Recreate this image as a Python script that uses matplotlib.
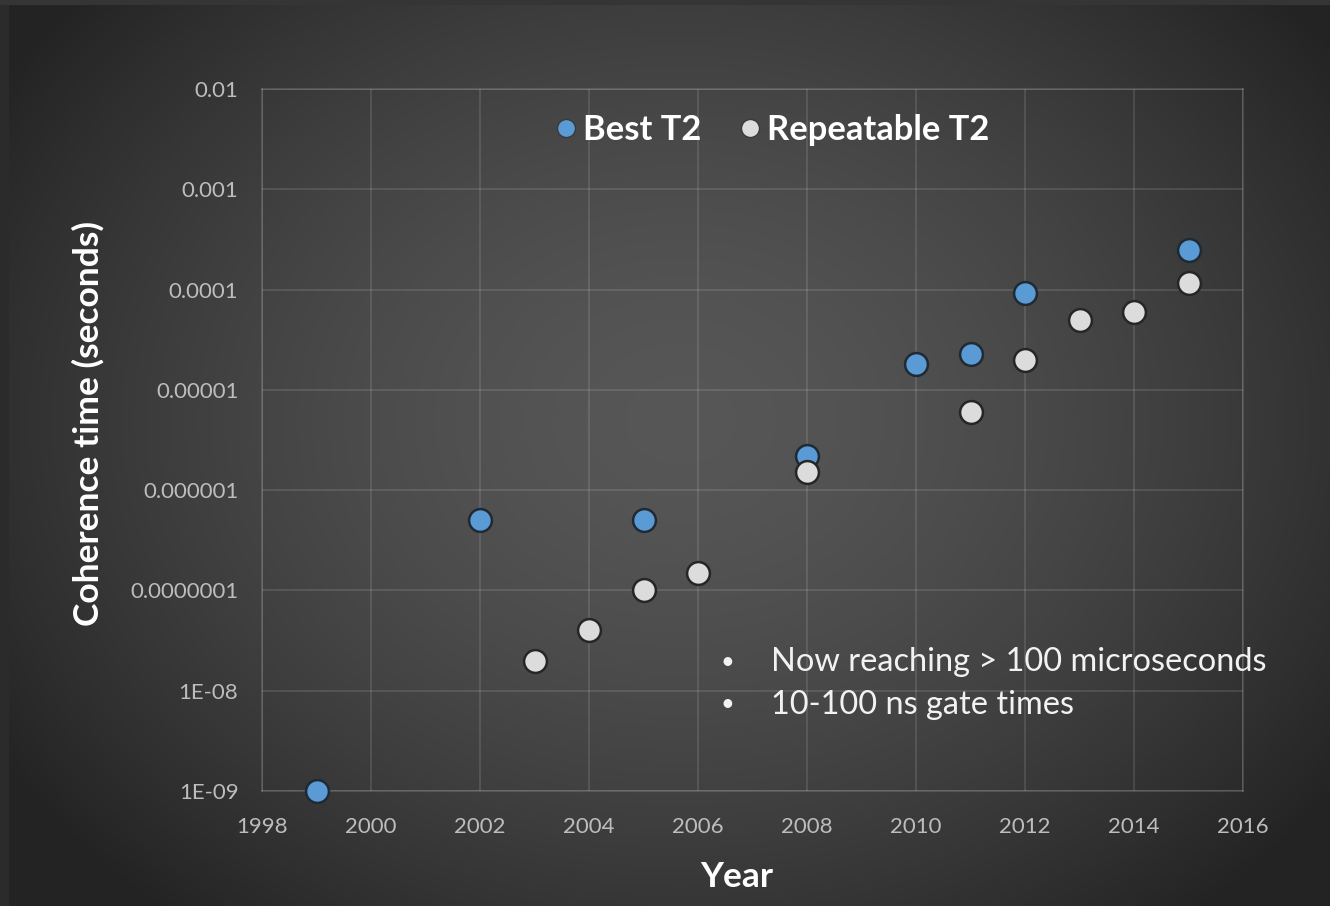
import numpy as np
import matplotlib
matplotlib.use("Agg")
import matplotlib.pyplot as plt
from matplotlib.lines import Line2D

# Coherence time data (seconds)
best_years = [1999, 2002, 2005, 2008, 2010, 2011, 2012, 2015]
best_t2 = [1e-9, 5e-7, 5e-7, 2.2e-6, 1.8e-5, 2.3e-5, 9.3e-5, 2.5e-4]

rep_years = [2003, 2004, 2005, 2006, 2008, 2011, 2012, 2013, 2014, 2015]
rep_t2 = [2e-8, 4e-8, 1e-7, 1.5e-7, 1.5e-6, 6e-6, 2e-5, 5e-5, 6e-5, 1.15e-4]

x_ticks = [1998, 2000, 2002, 2004, 2006, 2008, 2010, 2012, 2014, 2016]
y_ticks = [1e-9, 1e-8, 1e-7, 1e-6, 1e-5, 1e-4, 1e-3, 1e-2]
y_tick_labels = ["1E-09", "1E-08", "0.0000001", "0.000001", "0.00001",
                 "0.0001", "0.001", "0.01"]

notes = ["Now reaching > 100 microseconds", "10-100 ns gate times"]

plt.rcParams["font.family"] = ["Lato", "DejaVu Sans"]

W, H = 1330, 906
fig = plt.figure(figsize=(W / 100, H / 100), dpi=100)

# Dark radial background with a thin outer frame
bg = fig.add_axes([0, 0, 1, 1], zorder=-10)
yy, xx = np.mgrid[0:H, 0:W]
r = np.sqrt(((xx - 680) / 800.0) ** 2 + ((yy - 420) / 640.0) ** 2)
shade = np.clip(0.34 - 0.2 * r ** 1.6, 0.14, 0.4)
shade[:, :9] = 0.17
shade[:5, :] = 0.21
bg.imshow(np.dstack([shade] * 3), extent=[0, W, H, 0], aspect="auto")
bg.set_axis_off()

ax = fig.add_axes([262 / W, 1 - 791 / H, (1243 - 262) / W, (791 - 89) / H])
ax.patch.set_alpha(0)
ax.set_yscale("log")
ax.set_xlim(1998, 2016)
ax.set_ylim(1e-9, 1e-2)

ax.set_xticks(x_ticks)
ax.set_xticklabels([str(v) for v in x_ticks])
ax.set_yticks(y_ticks)
ax.set_yticklabels(y_tick_labels)
ax.yaxis.set_minor_locator(matplotlib.ticker.NullLocator())
ax.tick_params(length=0, labelsize=16, colors="#bdbdbd")
ax.tick_params(axis="y", pad=17)
ax.tick_params(axis="x", pad=19)

ax.grid(True, which="major", color="white", alpha=0.13, linewidth=1.2)
ax.set_axisbelow(True)
for s in ax.spines.values():
    s.set_color("white")
    s.set_alpha(0.16)
    s.set_linewidth(1.2)

ax.scatter(best_years, best_t2, s=270, color="#5b9bd5",
           edgecolor="#1f2a33", linewidth=1.8, zorder=3, clip_on=False)
ax.scatter(rep_years, rep_t2, s=270, color="#dcdcdc",
           edgecolor="#262626", linewidth=1.8, zorder=3, clip_on=False)

fig.text(737 / W, 1 - 877 / H, "Year", fontsize=25.5, fontweight="bold",
         color="white", ha="center", va="center")
fig.text(88 / W, 1 - 423 / H, "Coherence time (seconds)", fontsize=25.5,
         fontweight="bold", color="white", ha="center", va="center",
         rotation=90)

handles = [
    Line2D([], [], marker="o", linestyle="none", markersize=13,
           markerfacecolor="#5b9bd5", markeredgecolor="#3a3a3a"),
    Line2D([], [], marker="o", linestyle="none", markersize=13,
           markerfacecolor="#dcdcdc", markeredgecolor="#3a3a3a"),
]
leg = ax.legend(handles, ["Best T2", "Repeatable T2"], loc="center",
                bbox_to_anchor=((770 - 262) / 981, (791 - 130) / 702),
                ncol=2, frameon=False, fontsize=24.8, handletextpad=0.05,
                columnspacing=0.95, handlelength=0.9)
for t in leg.get_texts():
    t.set_color("white")
    t.set_fontweight("bold")

for i, line in enumerate(notes):
    ypix = 662 + 43 * i
    fig.text(727 / W, 1 - ypix / H, "\u2022", fontsize=17, color="#f2f2f2",
             ha="center", va="center")
    fig.text(771 / W, 1 - ypix / H, line, fontsize=23.4, color="#f2f2f2",
             ha="left", va="center")

fig.savefig("out.png", dpi=100)
